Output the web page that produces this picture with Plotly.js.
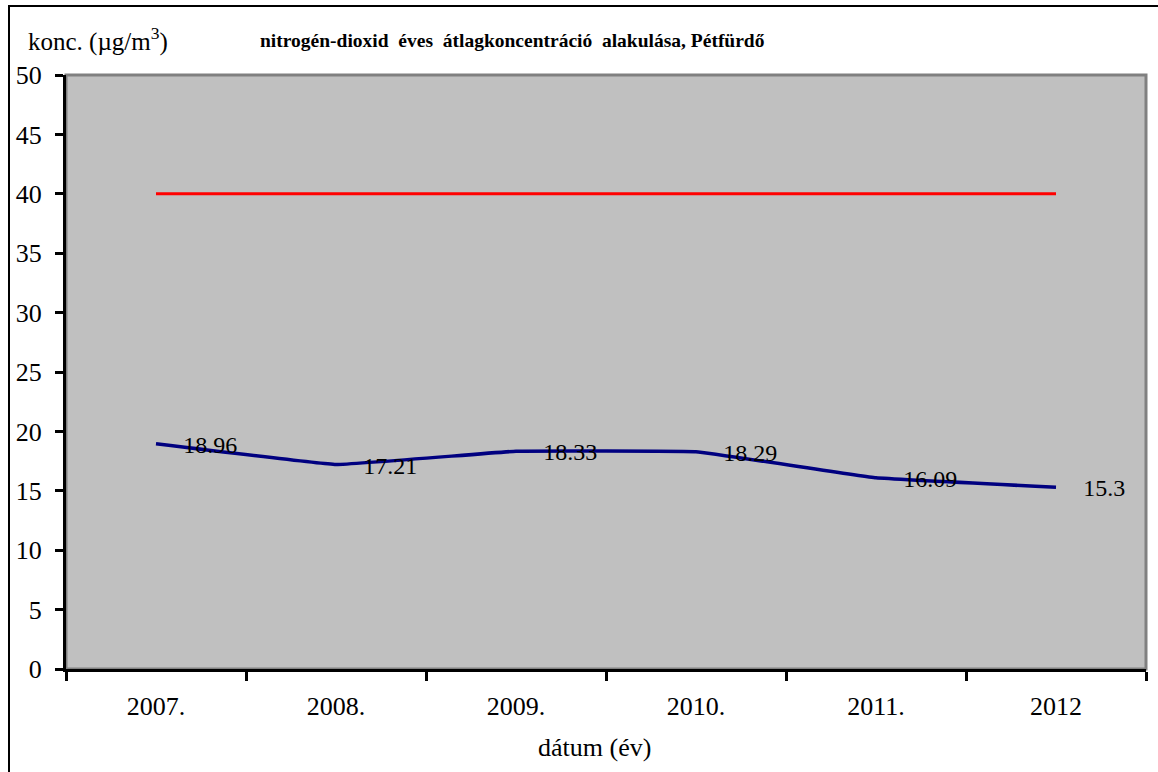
<!DOCTYPE html>
<html>
<head>
<meta charset="utf-8">
<script src="https://cdn.plot.ly/plotly-3.0.1.min.js"></script>
<style>
html,body{margin:0;padding:0;background:#fff;}
#chart{width:1158px;height:772px;}
#chart text{font-family:"Liberation Serif","Times New Roman",serif !important;}
#chart .textpoint text{transform:translateY(3px);}
</style>
</head>
<body>
<div id="chart"></div>
<script>
// Data
const years = ["2007.", "2008.", "2009.", "2010.", "2011.", "2012"];
const no2Values = [18.96, 17.21, 18.33, 18.29, 16.09, 15.3];
const limitValues = [40, 40, 40, 40, 40, 40];
const valueLabels = ["18.96", "17.21", "18.33", "18.29", "16.09", "15.3"];
const yTicks = [0, 5, 10, 15, 20, 25, 30, 35, 40, 45, 50];

const titleText = "nitrogén-dioxid  éves  átlagkoncentráció  alakulása, Pétfürdő";
const yTitleText = "konc. (µg/m<sup>3</sup>)";
const xTitleText = "dátum (év)";

const FONT = "Liberation Serif";

const W = 1158, H = 772;
const L = 66, R = 12, T = 75, B = 103;
const pw = W - L - R, ph = H - T - B;
function px(x){ return (x - L) / pw; }
function py(y){ return (H - B - y) / ph; }

const traces = [
  {
    x: years, y: limitValues, type: "scatter", mode: "lines",
    line: {color: "#FF0000", width: 3}, hoverinfo: "skip", showlegend: false
  },
  {
    x: years, y: no2Values, type: "scatter", mode: "lines",
    line: {color: "#000080", width: 3.5, shape: "spline", smoothing: 0.2},
    hoverinfo: "skip", showlegend: false
  },
  {
    x: years, y: no2Values, type: "scatter", mode: "markers+text",
    text: valueLabels, textposition: "middle right",
    marker: {size: 42, color: "rgba(0,0,0,0)", line: {width: 0}},
    textfont: {family: FONT, size: 24, color: "#000"},
    hoverinfo: "skip", showlegend: false, cliponaxis: false
  }
];

const annotations = [
  {
    xref: "paper", yref: "paper", x: px(258), y: py(40),
    xanchor: "left", yanchor: "middle", showarrow: false,
    text: "<b>" + titleText + "</b>",
    font: {family: FONT, size: 19.5, color: "#000"}
  },
  {
    xref: "paper", yref: "paper", x: px(26), y: py(39),
    xanchor: "left", yanchor: "middle", showarrow: false,
    text: yTitleText,
    font: {family: FONT, size: 25, color: "#000"}
  },
  {
    xref: "paper", yref: "paper", x: px(594), y: py(747),
    xanchor: "center", yanchor: "middle", showarrow: false,
    text: xTitleText,
    font: {family: FONT, size: 26, color: "#000"}
  }
];

const layout = {
  width: W, height: H,
  margin: {l: L, r: R, t: T, b: B, pad: 0},
  paper_bgcolor: "#FFFFFF",
  plot_bgcolor: "#C0C0C0",
  showlegend: false,
  font: {family: FONT, size: 24, color: "#000"},
  xaxis: {
    type: "category",
    range: [-0.5, 5.5],
    showgrid: false, zeroline: false,
    showline: true, linecolor: "#000", linewidth: 3,
    ticks: "outside", ticklen: 9, tickwidth: 3, tickcolor: "#000",
    tickson: "boundaries",
    tickfont: {family: FONT, size: 26, color: "#000"},
    ticklabelstandoff: 12,
    fixedrange: true
  },
  yaxis: {
    range: [0, 50],
    tickvals: yTicks,
    showgrid: false, zeroline: false,
    showline: true, linecolor: "#000", linewidth: 3,
    ticks: "outside", ticklen: 8, tickwidth: 3, tickcolor: "#000",
    tickfont: {family: FONT, size: 26, color: "#000"},
    ticklabelstandoff: 8,
    fixedrange: true
  },
  shapes: [
    {type: "rect", xref: "paper", yref: "paper", x0: 0, x1: 1, y0: 0, y1: 1,
     line: {color: "#808080", width: 3}, layer: "below"},
    {type: "rect", xref: "paper", yref: "paper",
     x0: px(9), x1: px(1160), y0: py(775), y1: py(6),
     line: {color: "#000", width: 2}, layer: "above"}
  ],
  annotations: annotations
};

Plotly.newPlot("chart", traces, layout, {staticPlot: true, displayModeBar: false});
</script>
</body>
</html>
